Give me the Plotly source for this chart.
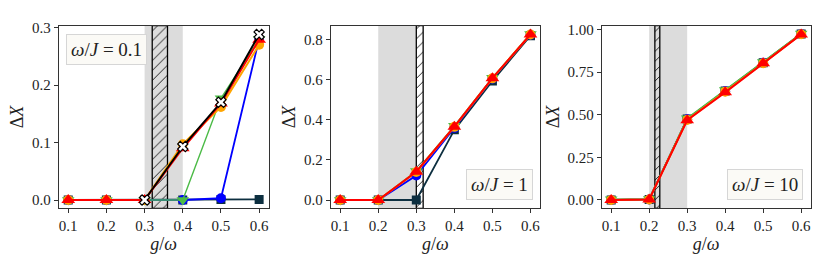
import plotly.graph_objects as go

# ---------------- data ----------------
g_vals = [0.1, 0.2, 0.3, 0.4, 0.5, 0.6]
panel_labels = ["ω/J = 0.1", "ω/J = 1", "ω/J = 10"]

# panel 1 (ω/J = 0.1)
p1_navy = [0.0, 0.0, 0.0, 0.0, 0.001, 0.001]
p1_blue = [0.0, 0.0, 0.0, 0.0, 0.003, 0.280]
p1_green = [0.0, 0.0, 0.0, 0.0, 0.177, 0.280]
p1_orange = [0.0, 0.0, 0.0, 0.097, 0.162, 0.270]
p1_red = [0.0, 0.0, 0.0, 0.090, 0.168, 0.279]
p1_black = [None, None, 0.0, 0.093, 0.170, 0.288]

# panel 2 (ω/J = 1)
p2_navy = [0.0, 0.0, 0.0, 0.350, 0.594, 0.820]
p2_blue = [0.0, 0.0, 0.122, 0.360, 0.605, 0.825]
p2_green = [0.0, 0.0, 0.145, 0.370, 0.610, 0.828]
p2_orange = [0.0, 0.0, 0.140, 0.365, 0.607, 0.826]
p2_red = [0.0, 0.0, 0.141, 0.366, 0.608, 0.826]

# panel 3 (ω/J = 10)
p3_navy = [0.0, 0.003, 0.475, 0.640, 0.806, 0.975]
p3_blue = [0.0, 0.003, 0.474, 0.638, 0.805, 0.974]
p3_green = [0.004, 0.006, 0.480, 0.645, 0.810, 0.978]
p3_orange = [0.0, 0.003, 0.470, 0.635, 0.803, 0.973]
p3_red = [0.0, 0.003, 0.468, 0.632, 0.802, 0.972]

# shaded regions (g/ω): gray band and hatched band per panel
gray_regions = [(0.30, 0.40), (0.20, 0.30), (0.20, 0.30)]
hatch_regions = [(0.32, 0.36), (0.30, 0.318), (0.215, 0.228)]

# ---------------- style ----------------
FONT = "Liberation Serif"
C_NAVY = "#0d2f40"
C_BLUE = "#0000ff"
C_GREEN = "#4cbb47"
C_ORANGE = "#ffa500"
C_RED = "#ff0000"

x_domains = [[0.0707, 0.3237], [0.3984, 0.6506], [0.7249, 0.9767]]
y_domain = [0.2218, 0.9248]
x_range = [0.075, 0.625]
y_ranges = [[-0.0145, 0.3035], [-0.0415, 0.8705], [-0.049, 1.024]]
y_dtick = [0.1, 0.2, 0.25]
y_fmt = [".1f", ".1f", ".2f"]

panels = [
    dict(navy=p1_navy, blue=p1_blue, green=p1_green, orange=p1_orange, red=p1_red, black=p1_black),
    dict(navy=p2_navy, blue=p2_blue, green=p2_green, orange=p2_orange, red=p2_red, black=None),
    dict(navy=p3_navy, blue=p3_blue, green=p3_green, orange=p3_orange, red=p3_red, black=None),
]

fig = go.Figure()
shapes = []
annotations = []

for i, p in enumerate(panels):
    xa = "x" if i == 0 else f"x{i+1}"
    ya = "y" if i == 0 else f"y{i+1}"
    # gray band
    shapes.append(dict(type="rect", xref=xa, yref=f"{ya} domain",
                       x0=gray_regions[i][0], x1=gray_regions[i][1], y0=0, y1=1,
                       fillcolor="#dcdcdc", line=dict(width=0), layer="below"))
    # hatched band as a bar spanning the axis
    h0, h1 = hatch_regions[i]
    yr = y_ranges[i]
    fig.add_trace(go.Bar(
        x=[(h0 + h1) / 2], y=[yr[1] - yr[0]], base=[yr[0]], width=[h1 - h0],
        xaxis=xa, yaxis=ya, showlegend=False, hoverinfo="skip",
        marker=dict(color="rgba(0,0,0,0)", line=dict(color="black", width=1.3),
                    pattern=dict(shape="/", fgcolor="black", bgcolor="rgba(0,0,0,0)",
                                 size=7, solidity=0.12, fillmode="replace")),
    ))

    def add(yv, color, symbol, size, lw, mline=None, mcolor=None):
        fig.add_trace(go.Scatter(
            x=g_vals, y=yv, mode="lines+markers", xaxis=xa, yaxis=ya, showlegend=False,
            line=dict(color=color, width=lw),
            marker=dict(symbol=symbol, size=size, color=mcolor or color,
                        line=mline if mline else dict(width=0)),
        ))

    add(p["navy"], C_NAVY, "square", 9, 1.8)
    add(p["blue"], C_BLUE, "circle", 10, 1.8)
    add(p["green"], C_GREEN, "triangle-down", 11, 1.4)
    add(p["orange"], C_ORANGE, "circle", 10, 2.0)
    add(p["red"], C_RED, "triangle-up", 12, 2.0)
    if p["black"] is not None:
        add(p["black"], "black", "x", 9, 2.0, dict(color="black", width=1.2), "white")

    # label box
    if i == 0:
        ann = dict(x=0.035, y=0.955, xanchor="left", yanchor="top")
    else:
        ann = dict(x=0.965, y=0.045, xanchor="right", yanchor="bottom")
    ann.update(xref=f"{xa} domain", yref=f"{ya} domain", showarrow=False,
               text=panel_labels[i].replace("ω", "<i>ω</i>").replace("J", "<i>J</i>"),
               font=dict(family=FONT, size=19, color="#222"),
               bgcolor="#fbfaf6", bordercolor="#d6d6d6", borderwidth=1, borderpad=4)
    annotations.append(ann)

axis_common = dict(showline=True, linecolor="#333", linewidth=1, mirror=True,
                   ticks="outside", ticklen=4, tickwidth=1, tickcolor="#333",
                   showgrid=False, zeroline=False,
                   tickfont=dict(family=FONT, size=15, color="#222"))

layout = dict(width=830, height=266, margin=dict(l=0, r=0, t=0, b=0),
              plot_bgcolor="white", paper_bgcolor="white", barmode="overlay",
              shapes=shapes, annotations=annotations)

for i in range(3):
    xk = "xaxis" if i == 0 else f"xaxis{i+1}"
    yk = "yaxis" if i == 0 else f"yaxis{i+1}"
    xa = "x" if i == 0 else f"x{i+1}"
    ya = "y" if i == 0 else f"y{i+1}"
    layout[xk] = dict(axis_common, domain=x_domains[i], anchor=ya, range=x_range,
                      tickmode="array", tickvals=g_vals, tickformat=".1f",
                      title=dict(text="<i>g</i>/<i>ω</i>", standoff=3,
                                 font=dict(family=FONT, size=18, color="#222")))
    layout[yk] = dict(axis_common, domain=y_domain, anchor=xa, range=y_ranges[i],
                      tick0=0, dtick=y_dtick[i], tickformat=y_fmt[i],
                      title=dict(text="Δ<i>X</i>", standoff=3,
                                 font=dict(family=FONT, size=18, color="#222")))

fig.update_layout(**layout)
fig.write_html("out.html", config={"displayModeBar": False},
               post_script="document.body.style.margin='0';")
